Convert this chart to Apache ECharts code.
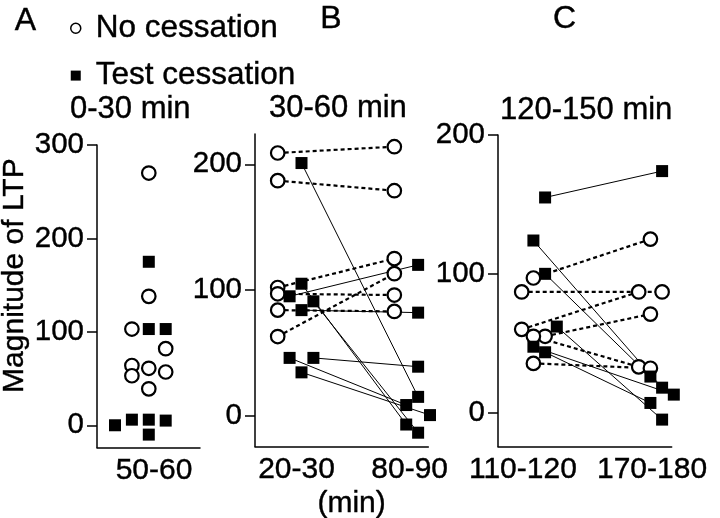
<!DOCTYPE html>
<html><head><meta charset="utf-8">
<script src="https://cdn.jsdelivr.net/npm/echarts@6/dist/echarts.min.js"></script>
<style>html,body{margin:0;padding:0;background:#fff}#c{width:720px;height:518px}</style>
</head><body><div id="c"></div>
<script>
// ---------- DATA ----------
// Panel A: 0-30 min, single time bin
const aLabels = ['50-60'];
const aNoVal   = [270, 138, 103, 82, 64, 53, 61, 57, 39];
const aNoCol   = [2, 2, 1, 3, 1, 1, 2, 3, 2];          // jitter column within bin
const aTestVal = [175, 103, 103, 0, 6, 6, 5, -10];
const aTestCol = [2, 2, 3, 0, 1, 2, 3, 2];
// Panel B: 30-60 min, paired before (20-30) / after (80-90)
const bLabels = ['20-30', '80-90'];
const bNoBefore  = [209, 187, 102, 97, 84, 63];
const bNoAfter   = [214, 179, 125, 96, 83, 113];
const bNoColB    = [0, 0, 0, 0, 0, 0];
const bNoColA    = [0, 0, 0, 0, 0, 0];
const bTestBefore = [201, 105, 95, 91, 84, 46, 46, 34.5];
const bTestAfter  = [15, -7, 120, -13.5, 82, 8.5, 39, 0.5];
const bTestColB   = [2, 2, 1, 3, 2, 1, 3, 2];
const bTestColA   = [2, 1, 2, 2, 2, 1, 2, 3];
// Panel C: 120-150 min, paired before (110-120) / after (170-180)
const cLabels = ['110-120', '170-180'];
const cNoBefore  = [97, 87, 60, 55, 55, 35.5];
const cNoAfter   = [125, 87, 87, 71, 33, 32];
const cNoColB    = [1, 0, 0, 2, 1, 1];
const cNoColA    = [1, 2, 0, 1, 0, 1];
const cTestBefore = [155, 124, 100, 62, 47.5, 43.5];
const cTestAfter  = [174, 18, 26, -5, 13, 7];
const cTestColB   = [2, 1, 2, 3, 1, 2];
const cTestColA   = [2, 2, 1, 2, 3, 1];
// tick labels
const yTicksA = [0, 100, 200, 300];
const yTicksB = [0, 100, 200];
const yTicksC = [0, 100, 200];

// ---------- LAYOUT / STYLE ----------
const FONT = '"Liberation Sans", Arial, Helvetica, sans-serif';
const INK = '#000';
const GAP_B = 9.8, GAP_C = 10;   // distance between the two bins in jitter-column units

const grids = [
  {left: 97,  top: 145, width: 103,   height: 302.5},
  {left: 255, top: 134, width: 173.3, height: 312.4},
  {left: 498, top: 135, width: 173.7, height: 311.4}
].map(g => Object.assign(g, {containLabel: false, outerBoundsMode: 'none'}));

const xRanges = [[-1.065, 5.03], [-1.908, 12.655], [-2.026, 12.82]];
const xLabelPos = [[2.31], [1.58, 11.09], [0.1, 11.14]];
const xLabelText = [aLabels, bLabels, cLabels];
const yRanges = [[-23.8, 300], [-24.4, 224.1], [-24.3, 200]];
const yTicks = [yTicksA, yTicksB, yTicksC];
const heavy = {textBorderColor: INK, textBorderWidth: 0.4};

const xAxis = grids.map((g, i) => ({
  type: 'value', gridIndex: i, min: xRanges[i][0], max: xRanges[i][1],
  axisLine: {show: true, onZero: false, lineStyle: {color: INK, width: 1.5}},
  axisTick: {show: false},
  splitLine: {show: false},
  axisLabel: Object.assign({
    show: true, customValues: xLabelPos[i], margin: 8,
    color: INK, fontSize: 30, fontFamily: FONT,
    formatter: v => { const k = xLabelPos[i].findIndex(p => Math.abs(p - v) < 1e-6); return k >= 0 ? xLabelText[i][k] : ''; }
  }, heavy)
}));
const yAxis = grids.map((g, i) => ({
  type: 'value', gridIndex: i, min: yRanges[i][0], max: yRanges[i][1],
  axisLine: {show: true, onZero: false, lineStyle: {color: INK, width: 1.5}},
  axisTick: {show: true, customValues: yTicks[i], length: 10, lineStyle: {color: INK, width: 1.5}},
  splitLine: {show: false},
  axisLabel: Object.assign({show: true, customValues: yTicks[i], margin: 13, color: INK, fontSize: 29.5, fontFamily: FONT}, heavy)
}));

const circleStyle = {color: '#fff', borderColor: INK, borderWidth: 2.2, opacity: 1};
const squareStyle = {color: INK, opacity: 1};
function scatter(name, idx, pts, isCircle) {
  return {
    type: 'scatter', name, xAxisIndex: idx, yAxisIndex: idx, clip: false,
    symbol: isCircle ? 'circle' : 'rect', symbolSize: isCircle ? 13.5 : 12,
    itemStyle: isCircle ? circleStyle : squareStyle,
    z: isCircle ? 3 : 4, data: pts, silent: true
  };
}
function pairs(idx, before, after, colB, colA, gap, dashed) {
  return before.map((v, i) => ({
    type: 'line', name: (dashed ? 'no' : 'test') + '-link', xAxisIndex: idx, yAxisIndex: idx,
    clip: false, symbol: 'none', silent: true, z: 2,
    lineStyle: dashed ? {color: INK, width: 2.2, type: [4, 3], opacity: 1} : {color: INK, width: 1, opacity: 1},
    data: [[colB[i], v], [gap + colA[i], after[i]]]
  }));
}
function pts(vals, cols, offset) { return vals.map((v, i) => [offset + cols[i], v]); }

const series = [].concat(
  pairs(1, bNoBefore, bNoAfter, bNoColB, bNoColA, GAP_B, true),
  pairs(1, bTestBefore, bTestAfter, bTestColB, bTestColA, GAP_B, false),
  pairs(2, cNoBefore, cNoAfter, cNoColB, cNoColA, GAP_C, true),
  pairs(2, cTestBefore, cTestAfter, cTestColB, cTestColA, GAP_C, false),
  [
    scatter('No cessation', 0, pts(aNoVal, aNoCol, 0), true),
    scatter('Test cessation', 0, pts(aTestVal, aTestCol, 0), false),
    scatter('No cessation', 1, pts(bNoBefore, bNoColB, 0).concat(pts(bNoAfter, bNoColA, GAP_B)), true),
    scatter('Test cessation', 1, pts(bTestBefore, bTestColB, 0).concat(pts(bTestAfter, bTestColA, GAP_B)), false),
    scatter('No cessation', 2, pts(cNoBefore, cNoColB, 0).concat(pts(cNoAfter, cNoColA, GAP_C)), true),
    scatter('Test cessation', 2, pts(cTestBefore, cTestColB, 0).concat(pts(cTestAfter, cTestColA, GAP_C)), false)
  ]
);

function txt(text, x, y, size, align, rot) {
  return {
    type: 'text', x, y, rotation: rot || 0, silent: true,
    style: {text, fill: INK, fontSize: size, fontFamily: FONT,
      textAlign: align, align: align, textVerticalAlign: 'middle', verticalAlign: 'middle',
      stroke: INK, lineWidth: 0.4}
  };
}

const option = {
  animation: false,
  backgroundColor: '#fff',
  grid: grids, xAxis, yAxis, series,
  legend: {
    orient: 'vertical', left: 70, top: 12, padding: 0, itemGap: 15,
    itemWidth: 10, itemHeight: 10, selectedMode: false,
    textStyle: Object.assign({fontSize: 31.5, fontFamily: FONT, color: INK, lineHeight: 30, padding: [0, 0, 0, 10]}, heavy),
    data: [
      {name: 'No cessation', icon: 'circle', itemStyle: {color: '#fff', borderColor: INK, borderWidth: 1.5, opacity: 1}},
      {name: 'Test cessation', icon: 'rect', itemStyle: {color: INK, opacity: 1}}
    ]
  },
  graphic: [
    txt('A', 25.5, 21, 32, 'center'),
    txt('B', 331, 19, 32, 'center'),
    txt('C', 564.5, 19, 32, 'center'),
    txt('0-30 min', 70, 109, 31, 'left'),
    txt('30-60 min', 269, 108, 31, 'left'),
    txt('120-150 min', 500, 110, 31, 'left'),
    txt('(min)', 351.6, 504, 30, 'center'),
    txt('Magnitude of LTP', 15, 275.6, 30, 'center', Math.PI / 2)
  ]
};
echarts.init(document.getElementById('c'), null, {renderer: 'canvas'}).setOption(option);
</script>
</body></html>
